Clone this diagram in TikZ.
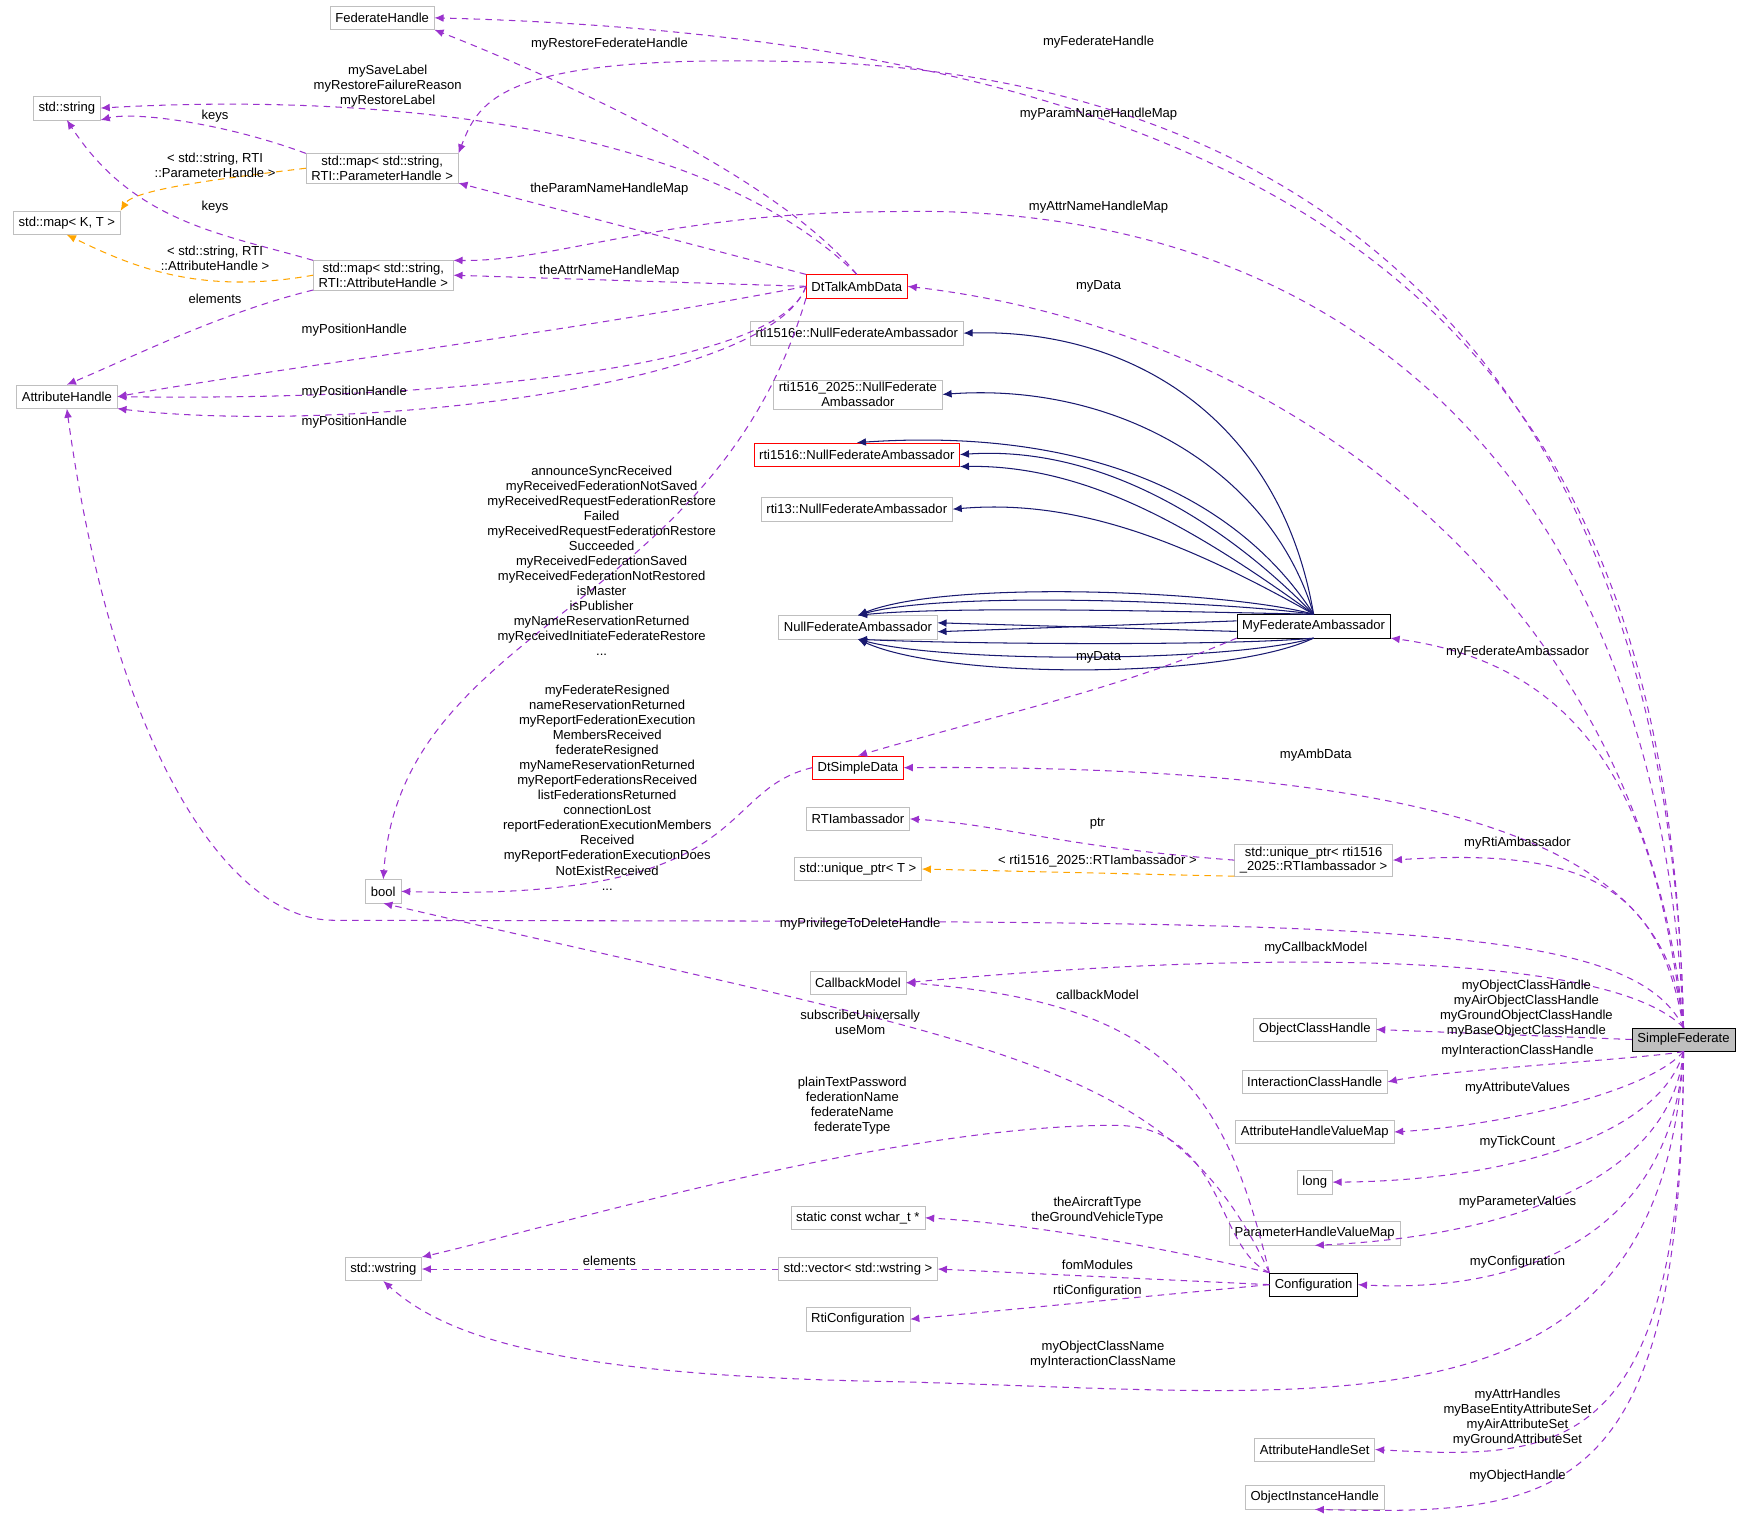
\documentclass[tikz,border=0pt]{standalone}
\usepackage{fontspec}
\setmainfont{Liberation Sans}
\usetikzlibrary{arrows.meta}
\definecolor{edgecolor}{RGB}{154,50,205}
\definecolor{tmplcolor}{RGB}{255,165,0}
\definecolor{inhcolor}{RGB}{25,25,112}
\definecolor{boxcolor}{RGB}{191,191,191}

\begin{document}
\begin{tikzpicture}[%
    x=0.03cm, y=-0.03cm,           % work in pixel units, top-down
    font=\fontsize{10}{11}\selectfont,
    ]
\tikzset{
  cls/.style={draw=boxcolor, rectangle, align=center, minimum height=0.63cm, inner xsep=4pt, inner ysep=2pt},
  red/.style={cls, draw=red},
  blk/.style={cls, draw=black},
  sel/.style={cls, draw=black, fill=boxcolor},
  dep/.style={-{Latex[length=7pt,width=6pt]}, edgecolor, dashed, dash pattern=on 5pt off 4pt, thick},
  tmpl/.style={dep, tmplcolor},
  inh/.style={-{Latex[length=7pt,width=6pt]}, inhcolor, thick},
  lbl/.style={align=center, inner sep=0pt, font=\fontsize{10}{11.5}\selectfont},
}
\useasboundingbox (0,0) rectangle (1568,1376);

% classes
\node [cls] (fh) at (343,16) {FederateHandle};
\node [cls] (str) at (60,97) {std::string};
\node [cls] (mapp) at (343,151) {std::map< std::string,\\ RTI::ParameterHandle >};
\node [cls] (mapkt) at (60,200) {std::map< K, T >};
\node [cls] (mapa) at (344,247) {std::map< std::string,\\ RTI::AttributeHandle >};
\node [red] (talk) at (769,257) {DtTalkAmbData};
\node [cls] (ah) at (60,356) {AttributeHandle};
\node [cls] (nfae) at (769,299) {rti1516e::NullFederateAmbassador};
\node [cls] (nfa25) at (770,354) {rti1516\_2025::NullFederate\\Ambassador};
\node [red] (nfa16) at (769,408) {rti1516::NullFederateAmbassador};
\node [cls] (nfa13) at (769,457) {rti13::NullFederateAmbassador};
\node [cls] (nfa) at (770,563) {NullFederateAmbassador};
\node [blk] (mfa) at (1179,562) {MyFederateAmbassador};
\node [red] (simple) at (770,689) {DtSimpleData};
\node [cls] (rtia) at (770,735) {RTIambassador};
\node [cls] (uptr) at (770,780) {std::unique\_ptr< T >};
\node [cls] (uptrr) at (1179,772) {std::unique\_ptr< rti1516\\ \_2025::RTIambassador >};
\node [cls] (bool) at (344,800) {bool};
\node [cls] (cbm) at (770,882) {CallbackModel};
\node [cls] (och) at (1180,924) {ObjectClassHandle};
\node [sel] (sf) at (1511,933) {SimpleFederate};
\node [cls] (ich) at (1180,971) {InteractionClassHandle};
\node [cls] (ahvm) at (1180,1016) {AttributeHandleValueMap};
\node [cls] (long) at (1180,1061) {long};
\node [cls] (phvm) at (1180,1107) {ParameterHandleValueMap};
\node [cls] (wchar) at (770,1093) {static const wchar\_t *};
\node [cls] (wstr) at (344,1139) {std::wstring};
\node [cls] (vec) at (770,1139) {std::vector< std::wstring >};
\node [blk] (conf) at (1179,1153) {Configuration};
\node [cls] (rtic) at (770,1184) {RtiConfiguration};
\node [cls] (ahs) at (1180,1301) {AttributeHandleSet};
\node [cls] (oih) at (1180,1344) {ObjectInstanceHandle};

% inheritance
\draw [inh] (mfa.north) .. controls (1150,380) and (1020,295) .. (nfae.east);
\draw [inh] (mfa.north) .. controls (1140,420) and (1000,343) .. (nfa25.east);
\draw [inh] (mfa.north) .. controls (1100,430) and (950,385) .. (nfa16.north);
\draw [inh] (mfa.north) .. controls (1090,460) and (980,400) .. (nfa16.east);
\draw [inh] (mfa.north) .. controls (1080,480) and (980,417) .. (nfa16.south east);
\draw [inh] (mfa.north) .. controls (1070,490) and (970,447) .. (nfa13.east);
\draw [inh] (mfa.north) .. controls (1100,530) and (850,520) .. (nfa.north);
\draw [inh] (mfa.north) .. controls (1100,540) and (850,530) .. (nfa.north);
\draw [inh] (mfa.north) .. controls (1100,550) and (860,543) .. (nfa.north);
\draw [inh] (mfa.west) ++(0,-4) -- ++(0,0) (mfa.north west) ++(0,6) -- ([yshift=-0.12cm]nfa.east);
\draw [inh] (mfa.south west) ++(0,-6) -- ([yshift=0.12cm]nfa.east);
\draw [inh] (mfa.south) .. controls (1100,580) and (860,578) .. (nfa.south);
\draw [inh] (mfa.south) .. controls (1100,595) and (850,595) .. (nfa.south);
\draw [inh] (mfa.south) .. controls (1100,610) and (850,610) .. (nfa.south);

% members
\draw [dep] (sf.north) .. controls (1500,400) and (1300,40) .. (fh.east);
\draw [dep] (talk.north) .. controls (700,160) and (500,70) .. (fh.south east);
\draw [dep] (sf.north) .. controls (1500,350) and (1200,60) .. (700,55) .. controls (450,50) and (430,90) .. (mapp.north east);
\draw [dep] (talk.north) .. controls (620,100) and (300,85) .. (str.east);
\draw [dep] (mapp.north west) .. controls (200,110) and (120,100) .. (str.south east);
\draw [tmpl] (mapp.west) .. controls (200,160) and (120,170) .. (mapkt.north east);
\draw [dep] (talk.north west) -- (mapp.south east);
\draw [dep] (sf.north) .. controls (1490,420) and (1200,180) .. (800,190) .. controls (600,190) and (500,235) .. (mapa.north east);
\draw [dep] (mapa.north west) .. controls (200,210) and (120,200) .. (str.south);
\draw [tmpl] (mapa.west) .. controls (180,265) and (120,240) .. (mapkt.south);
\draw [dep] (talk.west) -- (mapa.east);
\draw [dep] (sf.north) .. controls (1480,560) and (1180,300) .. (talk.east);
\draw [dep] (mapa.south west) .. controls (200,280) and (120,320) .. (ah.north);
\draw [dep] (talk.west) .. controls (500,300) and (250,330) .. (ah.east);
\draw [dep] (talk.west) .. controls (700,330) and (400,360) .. (ah.east);
\draw [dep] (talk.west) .. controls (690,350) and (300,390) .. (ah.south east);
\draw [dep] (talk.south west) .. controls (640,550) and (360,560) .. (bool.north);
\draw [dep] (simple.west) .. controls (640,710) and (680,810) .. (bool.east);
\draw [dep] (mfa.south west) .. controls (1000,620) and (900,640) .. (simple.north);
\draw [dep] (sf.north) .. controls (1490,760) and (1450,600) .. (mfa.south east);
\draw [dep] (sf.north) .. controls (1500,800) and (1400,685) .. (simple.east);
\draw [dep] (uptrr.west) .. controls (950,760) and (900,740) .. (rtia.east);
\draw [tmpl] (uptrr.south west) -- (uptr.east);
\draw [dep] (sf.north) .. controls (1490,800) and (1430,760) .. (uptrr.east);
\draw [dep] (sf.north) .. controls (1460,820) and (1200,828) .. (300,826) .. controls (200,826) and (100,660) .. (ah.south);
\draw [dep] (sf.north) .. controls (1440,850) and (1100,855) .. (cbm.east);
\draw [dep] (conf.north west) .. controls (1100,980) and (1050,900) .. (cbm.east);
\draw [dep] (conf.north west) .. controls (1050,950) and (900,940) .. (bool.south);
\draw [dep] (sf.west) -- (och.east);
\draw [dep] (sf.south) .. controls (1480,950) and (1300,960) .. (ich.east);
\draw [dep] (sf.south) .. controls (1480,980) and (1350,1010) .. (ahvm.east);
\draw [dep] (sf.south) .. controls (1490,1020) and (1350,1060) .. (long.east);
\draw [dep] (sf.south) .. controls (1500,1060) and (1350,1110) .. (phvm.south);
\draw [dep] (conf.north west) .. controls (1090,1120) and (1100,1010) .. (1000,1010) .. controls (800,1010) and (500,1100) .. (wstr.north east);
\draw [dep] (conf.north west) .. controls (1000,1110) and (900,1097) .. (wchar.east);
\draw [dep] (vec.west) -- (wstr.east);
\draw [dep] (conf.west) -- (vec.east);
\draw [dep] (sf.south) .. controls (1500,1120) and (1350,1160) .. (conf.east);
\draw [dep] (conf.west) -- (rtic.east);
\draw [dep] (sf.south) .. controls (1490,1300) and (1200,1250) .. (800,1240) .. controls (500,1235) and (400,1200) .. (wstr.south);
\draw [dep] (sf.south) .. controls (1510,1310) and (1400,1310) .. (ahs.east);
\draw [dep] (sf.south) .. controls (1510,1350) and (1400,1360) .. (oih.south);

% labels
\node [lbl] (l1) at (986,38) {myFederateHandle};
\node [lbl] (l2) at (547,40) {myRestoreFederateHandle};
\node [lbl] (l3) at (986,102) {myParamNameHandleMap};
\node [lbl] (l4) at (348,77) {mySaveLabel\\myRestoreFailureReason\\myRestoreLabel};
\node [lbl] (l5) at (193,104) {keys};
\node [lbl] (l6) at (193,148) {< std::string, RTI\\::ParameterHandle >};
\node [lbl] (l7) at (547,170) {theParamNameHandleMap};
\node [lbl] (l8) at (986,186) {myAttrNameHandleMap};
\node [lbl] (l9) at (193,186) {keys};
\node [lbl] (l10) at (193,232) {< std::string, RTI\\::AttributeHandle >};
\node [lbl] (l11) at (547,243) {theAttrNameHandleMap};
\node [lbl] (l12) at (986,257) {myData};
\node [lbl] (l13) at (193,268) {elements};
\node [lbl] (l14) at (318,296) {myPositionHandle};
\node [lbl] (l15) at (318,352) {myPositionHandle};
\node [lbl] (l16) at (318,379) {myPositionHandle};
\node [lbl] (l17) at (540,503) {announceSyncReceived\\myReceivedFederationNotSaved\\myReceivedRequestFederationRestore\\Failed\\myReceivedRequestFederationRestore\\Succeeded\\myReceivedFederationSaved\\myReceivedFederationNotRestored\\isMaster\\isPublisher\\myNameReservationReturned\\myReceivedInitiateFederateRestore\\...};
\node [lbl] (l18) at (545,707) {myFederateResigned\\nameReservationReturned\\myReportFederationExecution\\MembersReceived\\federateResigned\\myNameReservationReturned\\myReportFederationsReceived\\listFederationsReturned\\connectionLost\\reportFederationExecutionMembers\\Received\\myReportFederationExecutionDoes\\NotExistReceived\\...};
\node [lbl] (l19) at (986,590) {myData};
\node [lbl] (l20) at (1362,585) {myFederateAmbassador};
\node [lbl] (l21) at (1181,678) {myAmbData};
\node [lbl] (l22) at (985,739) {ptr};
\node [lbl] (l23) at (985,773) {< rti1516\_2025::RTIambassador >};
\node [lbl] (l24) at (1362,757) {myRtiAmbassador};
\node [lbl] (l25) at (772,829) {myPrivilegeToDeleteHandle};
\node [lbl] (l26) at (1181,851) {myCallbackModel};
\node [lbl] (l27) at (985,893) {callbackModel};
\node [lbl] (l28) at (772,918) {subscribeUniversally\\useMom};
\node [lbl] (l29) at (1370,905) {myObjectClassHandle\\myAirObjectClassHandle\\myGroundObjectClassHandle\\myBaseObjectClassHandle};
\node [lbl] (l30) at (1362,943) {myInteractionClassHandle};
\node [lbl] (l31) at (1362,977) {myAttributeValues};
\node [lbl] (l32) at (1362,1025) {myTickCount};
\node [lbl] (l33) at (1362,1079) {myParameterValues};
\node [lbl] (l34) at (765,992) {plainTextPassword\\federationName\\federateName\\federateType};
\node [lbl] (l35) at (985,1087) {theAircraftType\\theGroundVehicleType};
\node [lbl] (l36) at (547,1132) {elements};
\node [lbl] (l37) at (985,1135) {fomModules};
\node [lbl] (l38) at (1362,1133) {myConfiguration};
\node [lbl] (l39) at (985,1159) {rtiConfiguration};
\node [lbl] (l40) at (990,1216) {myObjectClassName\\myInteractionClassName};
\node [lbl] (l41) at (1362,1272) {myAttrHandles\\myBaseEntityAttributeSet\\myAirAttributeSet\\myGroundAttributeSet};
\node [lbl] (l42) at (1362,1325) {myObjectHandle};
\end{tikzpicture}
\end{document}
